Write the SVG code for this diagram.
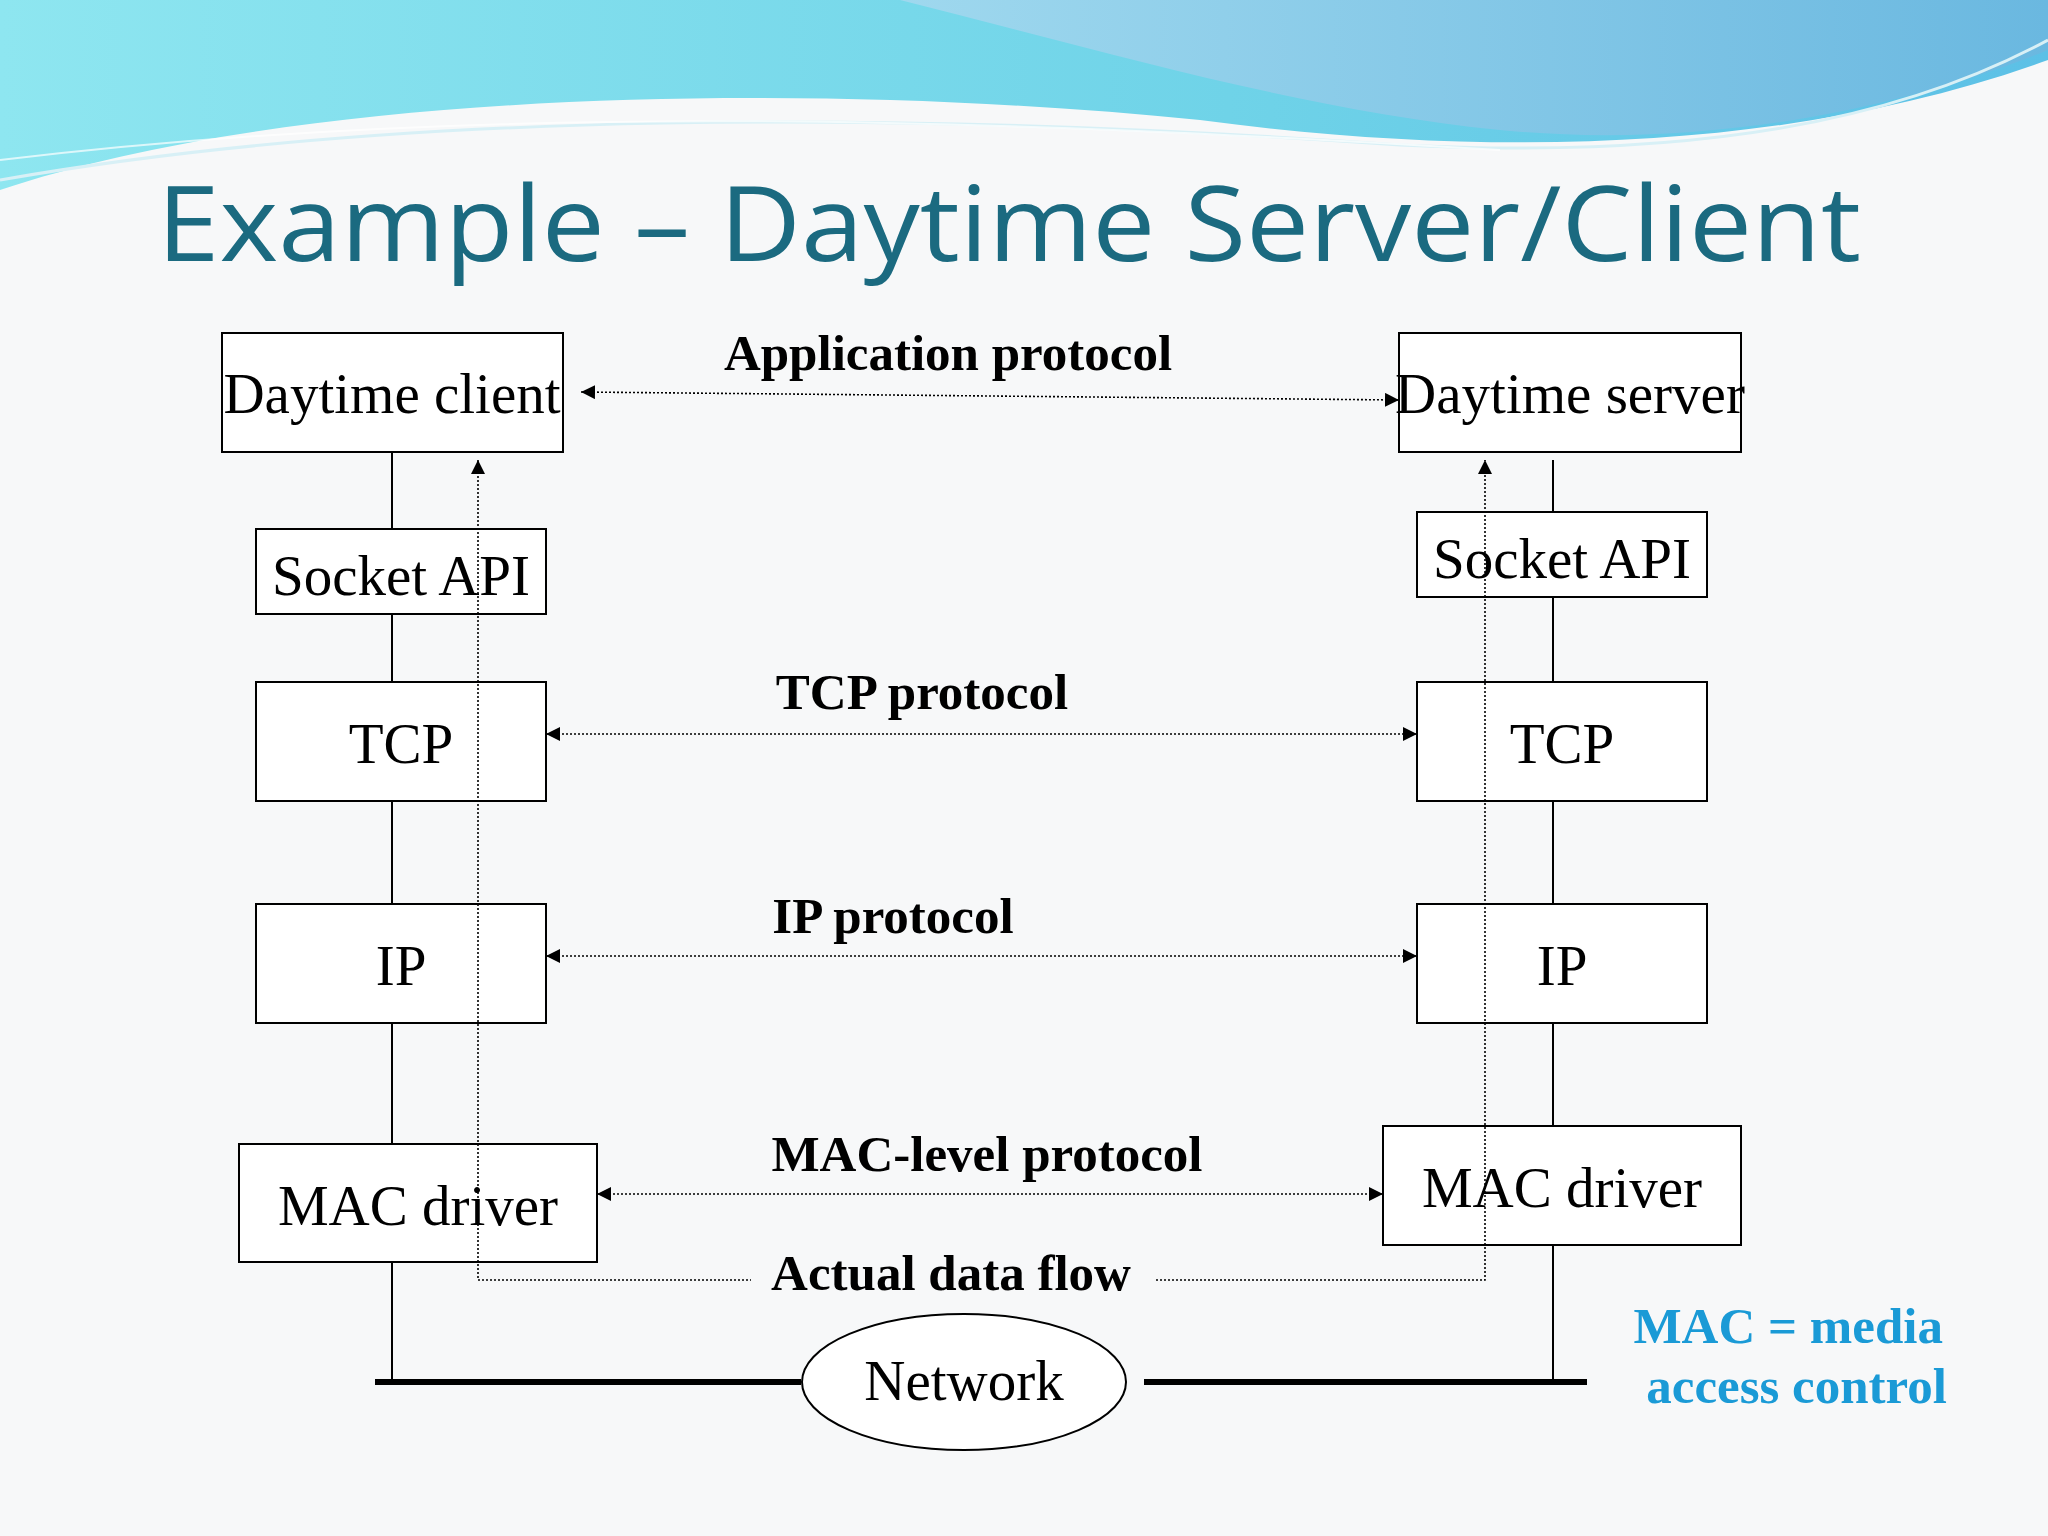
<svg xmlns="http://www.w3.org/2000/svg" width="2048" height="1536" viewBox="0 0 2048 1536">
<defs>
<linearGradient id="g1" x1="0" y1="0" x2="1" y2="0"><stop offset="0" stop-color="#8ee6f0"/><stop offset="0.6" stop-color="#6fd3e8"/><stop offset="1" stop-color="#5cc0e6"/></linearGradient>
<linearGradient id="g2" x1="0" y1="0" x2="1" y2="0"><stop offset="0" stop-color="#9fd8ee"/><stop offset="1" stop-color="#6ab8e0"/></linearGradient>
<marker id="ah" viewBox="0 0 10 10" refX="10" refY="5" markerWidth="14" markerHeight="14" markerUnits="userSpaceOnUse" orient="auto-start-reverse"><path d="M0,0 L10,5 L0,10 z" fill="#000"/></marker>
</defs>
<style>
.box{fill:#fff;stroke:#000;stroke-width:2}
.bt{font-family:"Liberation Serif",serif;font-size:57px;fill:#000;text-anchor:middle}
.pl{font-family:"Liberation Serif",serif;font-size:51px;font-weight:bold;fill:#000;text-anchor:middle}
.dot{fill:none;stroke:#000;stroke-width:1.6;stroke-dasharray:2,2}
.sol{stroke:#000;stroke-width:2}
</style>
<rect width="2048" height="1536" fill="#f7f8f9"/>
<g id="banner">
<path d="M0,0 H2048 V60 C1800,150 1500,160 1200,120 C800,80 300,90 0,190 Z" fill="url(#g1)"/>
<path d="M900,0 H2048 V50 C1900,110 1700,150 1500,130 C1300,110 1100,50 900,0 Z" fill="url(#g2)"/>
<path d="M0,180 C400,110 900,110 1400,145 C1700,160 1900,120 2048,40" fill="none" stroke="#d8f0f6" stroke-width="3"/>
<path d="M0,160 C500,100 1000,120 1500,150" fill="none" stroke="#ffffff" stroke-width="2" opacity="0.7"/>
</g>
<text x="157" y="261" font-family="'Open Sans',sans-serif" font-size="104" fill="#1b6a80" textLength="1704" lengthAdjust="spacingAndGlyphs">Example – Daytime Server/Client</text>
<g id="lines">
<line class="sol" x1="392" y1="452" x2="392" y2="1382"/>
<line class="sol" x1="1553" y1="460" x2="1553" y2="1382"/>
<line x1="375" y1="1382" x2="801" y2="1382" stroke="#000" stroke-width="6"/>
<line x1="1144" y1="1382" x2="1587" y2="1382" stroke="#000" stroke-width="6"/>
</g>
<g id="client"><rect class="box" x="222" y="333" width="341" height="119"/><text class="bt" x="392" y="413">Daytime client</text></g>
<g id="sockL"><rect class="box" x="256" y="529" width="290" height="85"/><text class="bt" x="401" y="595">Socket API</text></g>
<g id="tcpL"><rect class="box" x="256" y="682" width="290" height="119"/><text class="bt" x="401" y="763">TCP</text></g>
<g id="ipL"><rect class="box" x="256" y="904" width="290" height="119"/><text class="bt" x="401" y="985">IP</text></g>
<g id="macL"><rect class="box" x="239" y="1144" width="358" height="118"/><text class="bt" x="418" y="1225">MAC driver</text></g>
<g id="server"><rect class="box" x="1399" y="333" width="342" height="119"/><text class="bt" x="1570" y="413">Daytime server</text></g>
<g id="sockR"><rect class="box" x="1417" y="512" width="290" height="85"/><text class="bt" x="1562" y="578">Socket API</text></g>
<g id="tcpR"><rect class="box" x="1417" y="682" width="290" height="119"/><text class="bt" x="1562" y="763">TCP</text></g>
<g id="ipR"><rect class="box" x="1417" y="904" width="290" height="119"/><text class="bt" x="1562" y="985">IP</text></g>
<g id="macR"><rect class="box" x="1383" y="1126" width="358" height="119"/><text class="bt" x="1562" y="1207">MAC driver</text></g>
<g id="network"><ellipse cx="964" cy="1382" rx="162" ry="68" fill="#fff" stroke="#000" stroke-width="2"/><text class="bt" x="964" y="1400" font-size="50">Network</text></g>
<g id="connectors">
<path class="dot" d="M478,460 V1280 H751" marker-start="url(#ah)"/>
<path class="dot" d="M1156,1280 H1485 V460" marker-end="url(#ah)"/>
<line class="dot" x1="581" y1="392" x2="1399" y2="400" marker-start="url(#ah)" marker-end="url(#ah)"/>
<line class="dot" x1="546" y1="734" x2="1417" y2="734" marker-start="url(#ah)" marker-end="url(#ah)"/>
<line class="dot" x1="546" y1="956" x2="1417" y2="956" marker-start="url(#ah)" marker-end="url(#ah)"/>
<line class="dot" x1="597" y1="1194" x2="1383" y2="1194" marker-start="url(#ah)" marker-end="url(#ah)"/>
</g>
<g id="labels">
<text class="pl" x="948" y="370">Application protocol</text>
<text class="pl" x="922" y="709">TCP protocol</text>
<text class="pl" x="893" y="933">IP protocol</text>
<text class="pl" x="987" y="1171">MAC-level protocol</text>
<text class="pl" x="951" y="1290">Actual data flow</text>
<text class="pl" x="1943" y="1343" style="text-anchor:end;fill:#1a9ad6">MAC = media</text>
<text class="pl" x="1947" y="1403" style="text-anchor:end;fill:#1a9ad6">access control</text>
</g>
</svg>
